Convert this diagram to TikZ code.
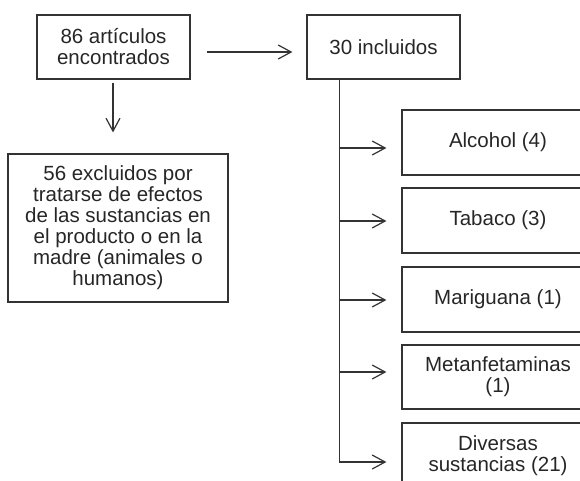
\documentclass[tikz,border=0pt]{standalone}
\usepackage{fontspec}
\setmainfont{Liberation Sans}
\usetikzlibrary{arrows.meta}
\begin{document}
\begin{tikzpicture}[x=1pt,y=-1pt,>={Straight Barb[length=13pt,width=14pt]},
		line width=1.2pt,draw=black!80,text=black!85,
		font=\fontsize{20.5}{21}\selectfont,
		caja/.style={draw,align=center,inner sep=0pt,minimum width=#1},
		caja/.default=192pt]
		\useasboundingbox (0,0) rectangle (580,480);
		\clip (0,0) rectangle (580,480);
		\node [caja=153pt,minimum height=64pt] (art) at (113.5,47) {86 artículos\\encontrados};
		\node [caja=153pt,minimum height=64pt] (inc) at (383.5,47) {30 incluidos};
		\node [caja=220pt,minimum height=148pt] (exc) at (118,228)
		{56 excluidos por\\tratarse de efectos\\de las sustancias en\\el producto o en la\\madre (animales o\\humanos)};
		\node [caja,minimum height=65pt] (alc) at (498,142.5) {Alcohol (4)};
		\node [caja,minimum height=65pt] (tab) at (498,220.5) {Tabaco (3)};
		\node [caja,minimum height=65pt] (mar) at (498,299.5) {Mariguana (1)};
		\node [caja,minimum height=64pt] (met) at (498,377) {Metanfetaminas\\(1)};
		\node [caja,minimum height=65pt] (div) at (498,455.5) {Diversas\\sustancias (21)};
		\draw [->,shorten <=16pt,shorten >=14pt] ([yshift=-5pt]art.east) -- ([yshift=-5pt]inc.west);
		\draw [->,shorten <=3pt,shorten >=21pt] ([xshift=-0.5pt]art.south) -- ([xshift=-0.5pt]art.south |- exc.north);
		% tronco de los incluidos
		\coordinate (top) at ([xshift=33pt]inc.south west);
		\coordinate (divin) at ([yshift=-6.5pt]div.west);
		\draw [->,shorten >=15pt] (top) |- (divin);
		\foreach \n/\dy in {alc/-5.5,tab/-0.5,mar/-0.5,met/5}{
			\coordinate (\n in) at ([yshift=\dy pt]\n.west);
			\draw [->,shorten >=15pt] (top |- \n in) -- (\n in);
		}
	\end{tikzpicture}
\end{document}
